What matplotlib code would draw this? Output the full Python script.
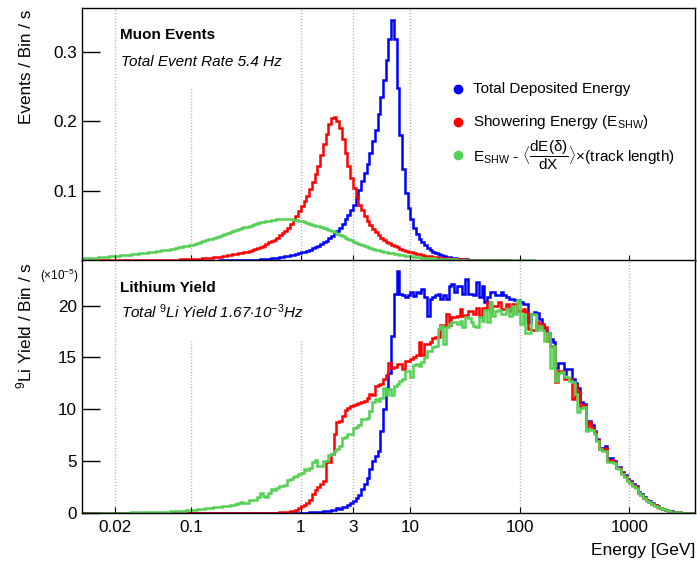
import numpy as np
import matplotlib
matplotlib.use('Agg')
import matplotlib.pyplot as plt

plt.rcParams['font.family'] = 'Liberation Sans'
plt.rcParams['mathtext.fontset'] = 'custom'
plt.rcParams['mathtext.rm'] = 'Liberation Sans'
plt.rcParams['mathtext.it'] = 'Liberation Sans:italic'
plt.rcParams['mathtext.bf'] = 'Liberation Sans:bold'

# histogram binning: 224 log bins, 10^-2 .. 10^3.6 GeV
LOG_E_MIN = -2.0
LOG_E_MAX = 3.6
N_BINS = 224

# muon event rate per bin [Hz]
top_total = [0.0] * 50 + [
    0.0002, 0.0002, 0.0003, 0.0003, 0.0004, 0.0004, 0.0005, 0.0005, 0.0006, 0.0007,
    0.0007, 0.0008, 0.0010, 0.0012, 0.0014, 0.0017, 0.0020, 0.0023, 0.0027, 0.0031,
    0.0035, 0.0040, 0.0045, 0.0052, 0.0058, 0.0065, 0.0073, 0.0082, 0.0092, 0.0104,
    0.0116, 0.0129, 0.0143, 0.0158, 0.0175, 0.0195, 0.0215, 0.0237, 0.0260, 0.0287,
    0.0318, 0.0352, 0.0390, 0.0430, 0.0470, 0.0525, 0.0590, 0.0660, 0.0730, 0.0800,
    0.090, 0.102, 0.114, 0.126, 0.139, 0.155, 0.172, 0.188, 0.211, 0.235,
    0.260, 0.288, 0.319, 0.346, 0.319, 0.248, 0.181, 0.131, 0.097, 0.075,
    0.059, 0.047, 0.038, 0.031, 0.026, 0.022, 0.018, 0.015, 0.0125, 0.0105,
    0.0090, 0.0076, 0.0064, 0.0054, 0.0046, 0.0039, 0.0033, 0.0028, 0.0024, 0.0020,
    0.0017, 0.0014, 0.0012, 0.0010, 0.0008, 0.0007, 0.0006, 0.0005, 0.0004, 0.0003,
    0.0003, 0.0002, 0.0002, 0.0001, 0.0001, 0.0001, 0.0, 0.0, 0.0, 0.0,
] + [0.0] * 64

top_shower = [
    0.0001, 0.0001, 0.0001, 0.0001, 0.0001, 0.0001, 0.0001, 0.0001, 0.0001, 0.0001,
    0.0001, 0.0001, 0.0001, 0.0002, 0.0002, 0.0002, 0.0002, 0.0002, 0.0003, 0.0003,
    0.0003, 0.0003, 0.0004, 0.0004, 0.0004, 0.0005, 0.0005, 0.0006, 0.0006, 0.0007,
    0.0008, 0.0009, 0.0010, 0.0011, 0.0012, 0.0014, 0.0015, 0.0017, 0.0019, 0.0021,
    0.0022, 0.0024, 0.0026, 0.0028, 0.0031, 0.0034, 0.0038, 0.0042, 0.0047, 0.0052,
    0.0057, 0.0063, 0.0069, 0.0076, 0.0083, 0.0091, 0.0099, 0.0105, 0.0110, 0.0118,
    0.0125, 0.0140, 0.0155, 0.0165, 0.0175, 0.0190, 0.0210, 0.0235, 0.0260, 0.0280,
    0.030, 0.033, 0.036, 0.039, 0.042, 0.047, 0.052, 0.058, 0.064, 0.071,
    0.078, 0.085, 0.093, 0.103, 0.113, 0.124, 0.136, 0.152, 0.168, 0.182,
    0.196, 0.205, 0.207, 0.200, 0.190, 0.174, 0.155, 0.136, 0.118, 0.104,
    0.091, 0.080, 0.072, 0.064, 0.057, 0.051, 0.046, 0.041, 0.037, 0.033,
    0.030, 0.027, 0.025, 0.023, 0.021, 0.019, 0.017, 0.0155, 0.014, 0.0128,
    0.0117, 0.0106, 0.0096, 0.0087, 0.0079, 0.0071, 0.0064, 0.0058, 0.0052, 0.0047,
    0.0042, 0.0038, 0.0034, 0.0030, 0.0027, 0.0024, 0.0021, 0.0019, 0.0017, 0.0015,
    0.0013, 0.0011, 0.0010, 0.0009, 0.0008, 0.0007, 0.0006, 0.0005, 0.0004, 0.0004,
    0.0003, 0.0003, 0.0002, 0.0002, 0.0001, 0.0001, 0.0, 0.0, 0.0, 0.0,
] + [0.0] * 64

top_corrected = [
    0.0030, 0.0032, 0.0035, 0.0037, 0.0040, 0.0043, 0.0046, 0.0049, 0.0052, 0.0055,
    0.0058, 0.0062, 0.0065, 0.0069, 0.0073, 0.0077, 0.0081, 0.0085, 0.0089, 0.0093,
    0.0098, 0.0103, 0.0107, 0.0112, 0.0117, 0.0122, 0.0127, 0.0133, 0.0138, 0.0144,
    0.0150, 0.0157, 0.0164, 0.0171, 0.0180, 0.0190, 0.0197, 0.0205, 0.0212, 0.0220,
    0.0228, 0.0240, 0.0252, 0.0264, 0.0277, 0.0290, 0.0302, 0.0314, 0.0326, 0.0338,
    0.0350, 0.0365, 0.0380, 0.0394, 0.0408, 0.0423, 0.0436, 0.0449, 0.0462, 0.0475,
    0.0488, 0.0500, 0.0512, 0.0524, 0.0536, 0.0548, 0.0556, 0.0564, 0.0571, 0.0578,
    0.0585, 0.0590, 0.0594, 0.0597, 0.0597, 0.0595, 0.0592, 0.0588, 0.0582, 0.0574,
    0.0565, 0.0555, 0.0543, 0.0530, 0.0516, 0.0500, 0.0489, 0.0476, 0.0462, 0.0448,
    0.0435, 0.0420, 0.0403, 0.0385, 0.0367, 0.0350, 0.0330, 0.0310, 0.0290, 0.0272,
    0.0255, 0.0240, 0.0225, 0.0209, 0.0194, 0.0180, 0.0168, 0.0156, 0.0145, 0.0135,
    0.0125, 0.0117, 0.0109, 0.0101, 0.0094, 0.0088, 0.0082, 0.0076, 0.0070, 0.0065,
    0.0060, 0.0056, 0.0051, 0.0047, 0.0043, 0.0039, 0.0036, 0.0033, 0.0031, 0.0028,
    0.0026, 0.0024, 0.0022, 0.0020, 0.0018, 0.0017, 0.0016, 0.0014, 0.0013, 0.0012,
    0.0011, 0.0010, 0.0009, 0.0008, 0.0008, 0.0007, 0.0006, 0.0006, 0.0005, 0.0005,
    0.0004, 0.0004, 0.0003, 0.0003, 0.0003, 0.0002, 0.0002, 0.0002, 0.0001, 0.0001,
    0.0001, 0.0001, 0.0001, 0.0001, 0.0001, 0.0, 0.0, 0.0, 0.0, 0.0,
] + [0.0] * 54

# 9Li yield per bin [1e-5 Hz]
bot_total = [0.0] * 70 + [
    0.01, 0.01, 0.01, 0.01, 0.01, 0.01, 0.01, 0.01, 0.02, 0.02,
    0.03, 0.03, 0.04, 0.05, 0.06, 0.08, 0.10, 0.12, 0.15, 0.20,
    0.22, 0.30, 0.33, 0.45, 0.42, 0.55, 0.60, 0.75, 0.95, 1.20,
    1.45, 1.70, 2.30, 2.80, 3.40, 4.20, 5.00, 5.50, 6.00, 7.90,
    10.0, 12.1, 13.5, 17.1, 21.1, 23.3, 21.1, 21.0, 20.8, 21.0,
    21.3, 20.9, 21.3, 21.2, 21.6, 20.8, 19.0, 20.6, 20.8, 21.0,
    21.1, 20.6, 21.0, 20.6, 21.9, 22.1, 21.3, 21.9, 21.9, 21.1,
    22.6, 21.1, 21.1, 21.0, 22.3, 20.8, 21.9, 20.3, 20.8, 21.3,
    21.3, 21.0, 21.0, 21.3, 21.0, 20.8, 20.6, 20.6, 20.5, 20.5,
    20.3, 20.2, 20.2, 18.4, 19.2, 19.35, 19.3, 18.7, 18.1, 17.6,
    17.4, 16.8, 16.45, 14.0, 14.5, 14.5, 13.4, 13.9, 13.9, 12.9,
    12.5, 12.1, 10.7, 10.5, 8.6, 8.9, 8.5, 7.9, 7.1, 6.3,
    6.3, 6.5, 5.3, 5.3, 5.0, 4.4, 4.4, 4.0, 3.7, 3.3,
    3.1, 2.8, 2.6, 2.0, 1.8, 1.5, 1.3, 1.15, 0.95, 0.8,
    0.65, 0.5, 0.4, 0.3, 0.22, 0.15, 0.1, 0.07, 0.05, 0.03,
    0.02, 0.01, 0.01, 0.0,
]

bot_shower = [0.0] * 60 + [
    0.01, 0.01, 0.01, 0.01, 0.01, 0.02, 0.02, 0.02, 0.03, 0.03,
    0.03, 0.04, 0.05, 0.06, 0.08, 0.10, 0.15, 0.20, 0.30, 0.50,
    0.70, 0.80, 1.00, 1.30, 1.80, 2.20, 2.50, 2.80, 3.10, 5.00,
    4.90, 5.70, 7.60, 8.80, 8.90, 9.40, 9.90, 10.1, 10.3, 10.4,
    10.5, 10.6, 10.7, 10.8, 11.1, 11.5, 11.4, 12.2, 12.3, 12.4,
    12.9, 13.3, 14.5, 14.0, 14.1, 14.4, 14.4, 13.9, 14.7, 14.7,
    14.85, 15.0, 15.2, 16.45, 15.2, 16.3, 16.3, 16.45, 16.9, 17.0,
    17.0, 18.1, 18.0, 19.2, 18.1, 18.9, 18.9, 19.0, 19.7, 19.0,
    19.1, 19.5, 19.5, 19.2, 19.8, 19.0, 19.8, 19.8, 20.3, 19.5,
    20.0, 20.0, 20.3, 19.7, 19.7, 20.2, 19.5, 20.2, 20.2, 19.5,
    19.5, 19.7, 19.4, 17.75, 17.6, 17.6, 18.4, 17.9, 18.2, 17.9,
    16.6, 16.1, 15.97, 12.6, 13.7, 13.7, 12.9, 12.9, 12.9, 11.0,
    12.3, 11.7, 10.2, 10.4, 8.0, 8.8, 8.2, 7.8, 7.0, 6.2,
    6.1, 6.3, 5.0, 5.1, 4.9, 4.3, 4.3, 3.9, 3.6, 3.2,
    3.0, 2.7, 2.5, 1.95, 1.75, 1.45, 1.25, 1.1, 0.9, 0.75,
    0.62, 0.48, 0.38, 0.29, 0.21, 0.14, 0.1, 0.07, 0.05, 0.03,
    0.02, 0.01, 0.01, 0.0,
]

bot_corrected = [
    0.01, 0.01, 0.01, 0.01, 0.02, 0.02, 0.02, 0.02, 0.02, 0.03,
    0.03, 0.03, 0.03, 0.03, 0.04, 0.04, 0.04, 0.04, 0.05, 0.05,
    0.05, 0.05, 0.05, 0.06, 0.06, 0.06, 0.07, 0.08, 0.09, 0.10,
    0.12, 0.14, 0.15, 0.19, 0.17, 0.20, 0.22, 0.21, 0.25, 0.27,
    0.30, 0.28, 0.35, 0.40, 0.38, 0.45, 0.50, 0.48, 0.55, 0.62,
    0.60, 0.65, 0.70, 0.72, 0.80, 0.78, 0.90, 1.00, 1.05, 0.95,
    0.93, 1.25, 1.30, 1.26, 1.50, 1.90, 1.60, 1.52, 1.90, 2.30,
    2.20, 2.40, 2.60, 2.60, 2.70, 3.20, 3.30, 3.50, 3.60, 3.75,
    3.90, 4.20, 4.10, 4.30, 4.90, 5.10, 4.50, 4.50, 5.00, 5.00,
    5.60, 5.70, 6.00, 6.20, 6.50, 7.20, 7.30, 7.60, 7.60, 8.20,
    8.30, 8.50, 9.10, 9.05, 9.20, 9.80, 10.7, 11.0, 10.8, 11.1,
    12.1, 11.4, 12.0, 11.4, 12.2, 12.4, 12.7, 12.9, 13.7, 13.7,
    13.1, 14.3, 14.4, 14.2, 14.6, 15.0, 15.6, 15.65, 16.0, 16.1,
    17.7, 18.07, 16.3, 17.9, 18.2, 18.4, 18.4, 18.2, 18.5, 17.9,
    18.87, 18.8, 18.4, 18.0, 17.9, 18.87, 18.55, 19.6, 18.4, 20.3,
    19.0, 19.5, 19.6, 19.2, 19.2, 19.7, 19.0, 20.0, 19.2, 20.5,
    18.2, 19.2, 17.4, 17.4, 19.2, 19.2, 17.6, 18.07, 17.6, 16.6,
    17.4, 14.0, 16.1, 12.75, 13.5, 13.56, 13.1, 13.07, 12.75, 12.6,
    11.47, 9.7, 10.17, 10.2, 7.92, 8.1, 8.0, 7.6, 6.9, 6.15,
    6.0, 6.0, 4.9, 4.9, 4.8, 4.3, 4.2, 3.8, 3.5, 3.1,
    2.9, 2.65, 2.45, 1.9, 1.7, 1.4, 1.2, 1.05, 0.88, 0.72,
    0.6, 0.46, 0.36, 0.27, 0.2, 0.14, 0.1, 0.07, 0.05, 0.03,
    0.02, 0.01, 0.01, 0.0,
]

tick_energies = [0.02, 0.1, 1, 3, 10, 100, 1000]
tick_labels = ['0.02', '0.1', '1', '3', '10', '100', '1000']

# dotted reference lines: (energy, top of line in axes fraction)
grid_top = [(0.02, 1.0), (0.1, 0.683), (1, 1.0), (3, 1.0), (10, 1.0)]
grid_bot = [(0.02, 1.0), (0.1, 0.68), (1, 0.68), (3, 1.0), (10, 1.0),
            (100, 1.0), (1000, 1.0)]

BLUE = '#0000ff'
RED = '#ff0000'
GREEN = '#55d055'

edges = np.logspace(LOG_E_MIN, LOG_E_MAX, N_BINS + 1)

fig = plt.figure(figsize=(6.97, 5.67), dpi=100)
ax_top = fig.add_axes([0.1176, 0.54056, 0.8795, 0.44533])
ax_bot = fig.add_axes([0.1176, 0.09524, 0.8795, 0.44533], sharex=ax_top)

for ax, grid in ((ax_top, grid_top), (ax_bot, grid_bot)):
    ax.set_xscale('log')
    for e, frac in grid:
        ax.axvline(e, ymin=0, ymax=frac, color='#b0b0b0', lw=1.0,
                   ls=(0, (0.8, 1.4)), zorder=0)
    for sp in ax.spines.values():
        sp.set_linewidth(1.0)
    ax.tick_params(axis='y', direction='in', length=13, width=1.0,
                   labelsize=12.3, pad=3.5)
    ax.tick_params(axis='x', which='both', direction='in', length=4,
                   width=0.8, labelsize=12.3, pad=5)
    ax.set_xticks(tick_energies)
    ax.xaxis.set_minor_locator(matplotlib.ticker.NullLocator())

ax_top.stairs(top_total, edges, baseline=None, color=BLUE, lw=1.8)
ax_top.stairs(top_shower, edges, baseline=None, color=RED, lw=1.8)
ax_top.stairs(top_corrected, edges, baseline=None, color=GREEN, lw=1.8)

ax_bot.stairs(bot_total, edges, baseline=None, color=BLUE, lw=1.8)
ax_bot.stairs(bot_shower, edges, baseline=None, color=RED, lw=1.8)
ax_bot.stairs(bot_corrected, edges, baseline=None, color=GREEN, lw=1.8)

ax_top.set_xlim(edges[0], edges[-1])
ax_top.set_ylim(0, 0.363)
ax_top.set_yticks([0.1, 0.2, 0.3])
ax_top.set_yticklabels(['0.1', '0.2', '0.3'])
ax_top.tick_params(axis='x', labelbottom=False)

ax_bot.set_ylim(0, 24.35)
ax_bot.set_yticks([0, 5, 10, 15, 20])
ax_bot.set_xticklabels(tick_labels)

# panel captions
ax_top.text(0.062, 0.877, 'Muon Events', transform=ax_top.transAxes,
            fontsize=11, fontweight='bold', va='baseline')
ax_top.text(0.063, 0.770, 'Total Event Rate 5.4 Hz', transform=ax_top.transAxes,
            fontsize=11, style='italic', va='baseline')
ax_bot.text(0.062, 0.875, 'Lithium Yield', transform=ax_bot.transAxes,
            fontsize=11, fontweight='bold', va='baseline')
ax_bot.text(0.063, 0.772,
            r'Total $^{\mathit{9}}$Li Yield 1.67$\cdot$10$^{\mathit{-3}}$Hz',
            transform=ax_bot.transAxes, fontsize=11, style='italic', va='baseline')

# legend
legend_rows = [
    (0.679, BLUE, 'Total Deposited Energy'),
    (0.5485, RED, r'Showering Energy (E$_{\mathrm{SHW}}$)'),
    (0.418, GREEN, r'E$_{\mathrm{SHW}}$ - $\langle\dfrac{\mathrm{dE(\delta)}}{\mathrm{dX}}\rangle$$\times$(track length)'),
]
for y, c, label in legend_rows:
    ax_top.plot([0.613], [y], 'o', color=c, ms=6, transform=ax_top.transAxes,
                clip_on=False)
    ax_top.text(0.638, y, label, transform=ax_top.transAxes, fontsize=11,
                va='center')

# axis titles
fig.text(27 / 697, 1 - 10 / 567, 'Events / Bin / s', rotation=90,
         ha='center', va='top', fontsize=12.3)
fig.text(24 / 697, 1 - 262 / 567, r'$^{9}$Li Yield / Bin / s', rotation=90,
         ha='center', va='top', fontsize=12.3)
fig.text(40 / 697, 1 - 276 / 567, r'($\times$10$^{-5}$)', ha='left',
         va='center', fontsize=8.5)
fig.text(695 / 697, 1 - 550 / 567, 'Energy [GeV]', ha='right', va='center',
         fontsize=12.5)

fig.savefig('out.png', dpi=100)
